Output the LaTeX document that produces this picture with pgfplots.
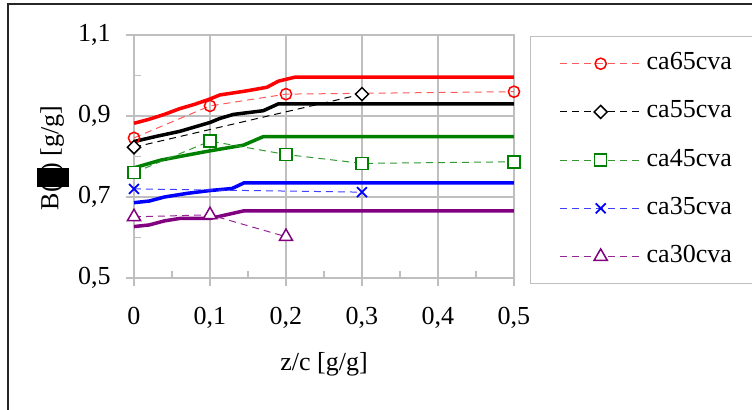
\documentclass[border=0pt]{standalone}
\usepackage{fontspec}
\setmainfont{Liberation Serif}
\usepackage{pgfplots}
\pgfplotsset{compat=1.18}
\definecolor{gridgray}{RGB}{191,191,191}
\definecolor{cpurple}{RGB}{128,0,128}
\definecolor{cgreen}{RGB}{0,128,0}
\newcommand{\fs}{\fontsize{13}{15.6}\selectfont}
\begin{document}
\begin{tikzpicture}
\clip (0,0) rectangle (376pt,204.5pt);
\draw[black!85, line width=0.6pt] (4pt,-20pt) rectangle (420pt,202.5pt);
\begin{axis}[
  scale only axis,
  width=190pt, height=121.5pt,
  at={(67pt,65.5pt)}, anchor=south west,
  xmin=0, xmax=0.5, ymin=0.5, ymax=1.1,
  clip=false,
  xtick={0,0.1,0.2,0.3,0.4,0.5},
  xticklabels={0,{0,1},{0,2},{0,3},{0,4},{0,5}},
  minor xtick={0.05,0.15,0.25,0.35,0.45},
  ytick={0.5,0.7,0.9,1.1},
  yticklabels={{0,5},{0,7},{0,9},{1,1}},
  minor ytick={0.6,0.8,1.0},
  xtick pos=left, ytick pos=left,
  tick align=outside,
  major tick length=4pt,
  minor tick length=-3.5pt,
  every tick/.style={gridgray, line width=0.75pt},
  grid=major,
  major grid style={gridgray, line width=0.75pt},
  axis line style={gridgray, line width=0.75pt},
  xticklabel style={font=\fs, inner sep=0pt, anchor=north, yshift=-10.5pt},
  yticklabel style={font=\fs, inner sep=0pt, anchor=east, xshift=-7.5pt},
  xlabel={z/c [g/g]},
  xlabel style={font=\fs, inner sep=0pt, at={(axis description cs:0.5,0)}, anchor=base, yshift=-46pt},
  ylabel={B(\hspace{-1.5pt}\rule[-5.5pt]{9.5pt}{16pt}\hspace{-1.5pt}) [g/g]},
  ylabel style={font=\fs, inner sep=0pt, at={(axis description cs:-0.199,0.494)}, anchor=base},
  legend style={at={(1.042,0.996)}, anchor=north west, draw=gridgray, line width=0.75pt,
    inner xsep=14.5pt, inner ysep=7.5pt, row sep=12.1pt, column sep=2.5pt,
    font=\fs, nodes={inner sep=0pt, text height=9pt, text depth=3pt}},
  legend cell align=left,
  legend image code/.code={\draw[mark repeat=2,mark phase=2] plot coordinates {(0pt,0pt) (20.25pt,0pt) (40.5pt,0pt)};},
]
% solid model lines
\addplot[forget plot, red, line width=1.75pt] coordinates {(0,0.882) (0.02,0.892) (0.04,0.904) (0.06,0.918) (0.08,0.929) (0.1,0.942) (0.113,0.952) (0.148,0.962) (0.175,0.971) (0.19,0.986) (0.212,0.996) (0.5,0.996)};
\addplot[forget plot, black, line width=1.75pt] coordinates {(0,0.837) (0.03,0.85) (0.06,0.862) (0.1,0.884) (0.113,0.894) (0.131,0.904) (0.17,0.913) (0.19,0.930) (0.5,0.930)};
\addplot[forget plot, cgreen, line width=1.75pt] coordinates {(0,0.772) (0.035,0.791) (0.06,0.800) (0.1,0.814) (0.144,0.828) (0.17,0.849) (0.5,0.849)};
\addplot[forget plot, blue, line width=1.75pt] coordinates {(0,0.686) (0.02,0.690) (0.04,0.700) (0.07,0.709) (0.1,0.716) (0.129,0.721) (0.145,0.735) (0.5,0.735)};
\addplot[forget plot, cpurple, line width=1.75pt] coordinates {(0,0.627) (0.02,0.631) (0.04,0.641) (0.06,0.647) (0.1,0.647) (0.145,0.666) (0.5,0.666)};
% measured series
\addplot[red!65, line width=0.5pt, dash pattern=on 3.5pt off 2.5pt, mark=o, mark size=2.8pt, mark options={solid, red, fill=white, line width=0.75pt}] coordinates {(0,0.846) (0.1,0.925) (0.2,0.954) (0.5,0.960)};
\addlegendentry{ca65cva}
\addplot[black, line width=0.5pt, dash pattern=on 3.5pt off 2.5pt, mark=square*, mark size=2.3pt, mark options={solid, black, fill=white, line width=0.75pt, rotate=45}] coordinates {(0,0.823) (0.3,0.954)};
\addlegendentry{ca55cva}
\addplot[cgreen!80, line width=0.5pt, dash pattern=on 3.5pt off 2.5pt, mark=square*, mark size=3pt, mark options={solid, cgreen, fill=white, line width=0.75pt}] coordinates {(0,0.760) (0.1,0.838) (0.2,0.805) (0.3,0.783) (0.5,0.787)};
\addlegendentry{ca45cva}
\addplot[blue!75, line width=0.5pt, dash pattern=on 3.5pt off 2.5pt, mark=x, mark size=3.5pt, mark options={solid, blue, line width=0.9pt}] coordinates {(0,0.720) (0.3,0.712)};
\addlegendentry{ca35cva}
\addplot[cpurple!85, line width=0.5pt, dash pattern=on 3.5pt off 2.5pt, mark=triangle*, mark size=3.8pt, mark options={solid, cpurple, fill=white, line width=0.75pt}] coordinates {(0,0.651) (0.1,0.656) (0.2,0.602)};
\addlegendentry{ca30cva}
\end{axis}
\end{tikzpicture}
\end{document}
